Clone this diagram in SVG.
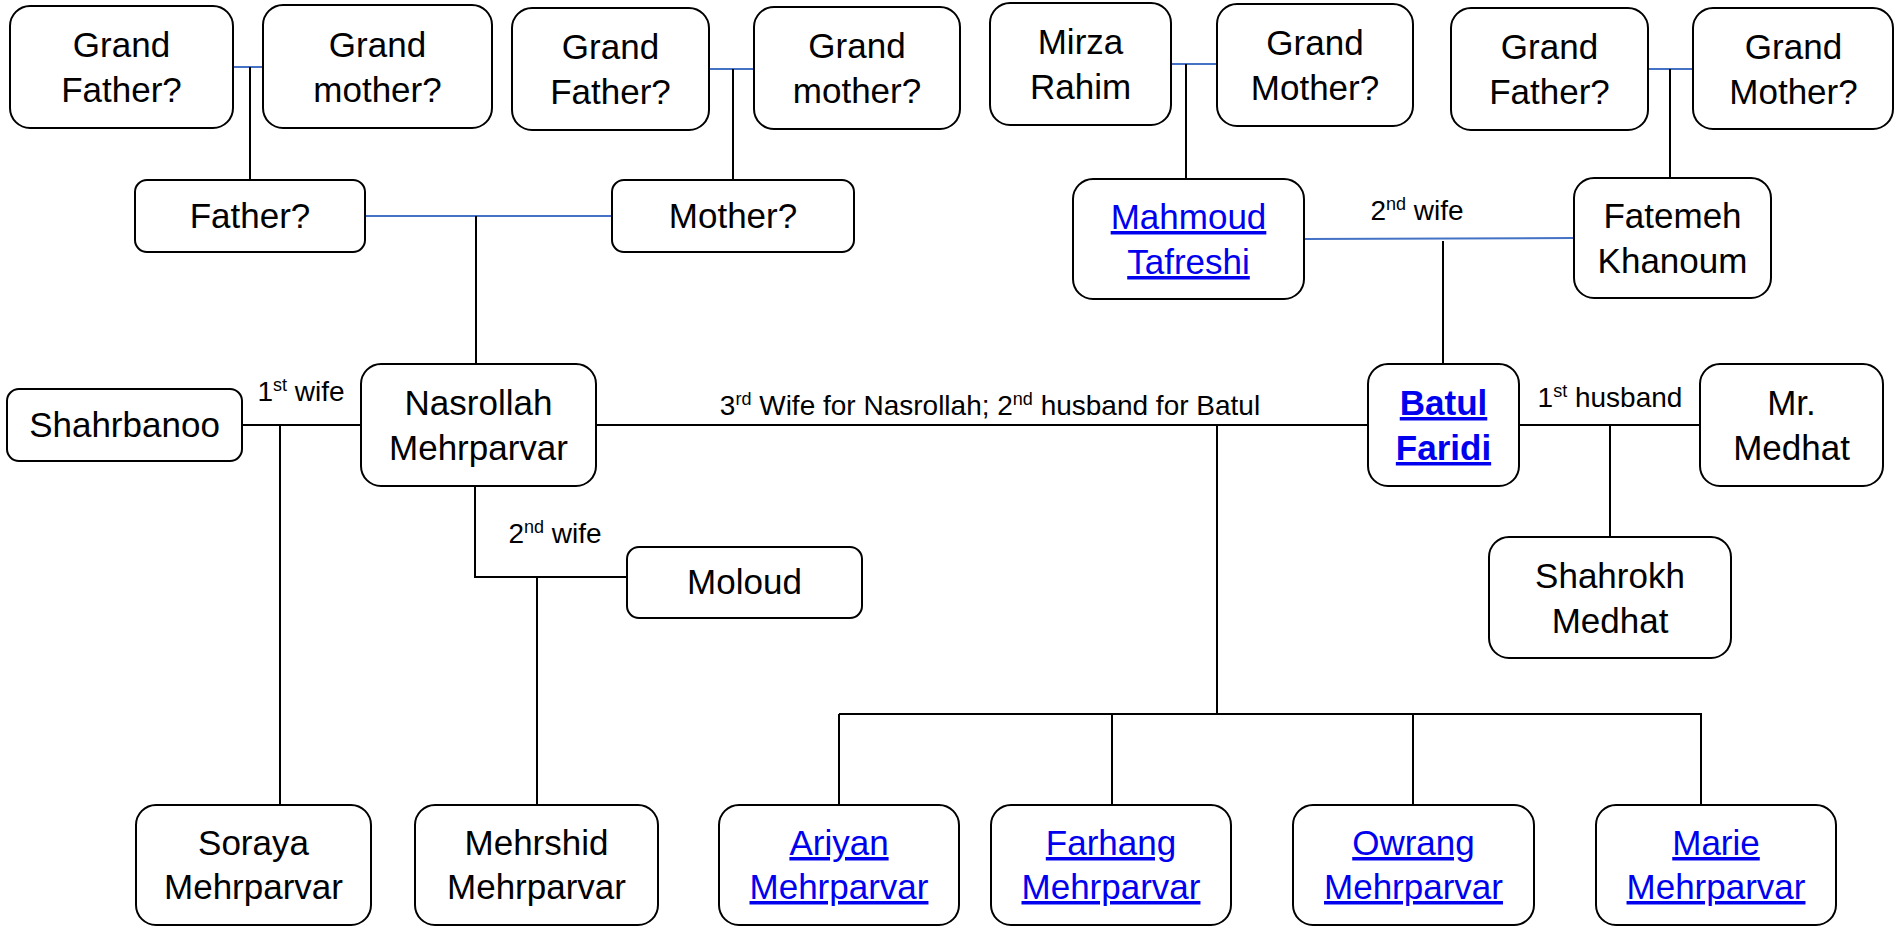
<svg xmlns="http://www.w3.org/2000/svg" width="1895" height="926" viewBox="0 0 1895 926">
<style>
.box{fill:#fff;stroke:#000;stroke-width:2}
.t{font-family:"Liberation Sans",Arial,sans-serif;font-size:35px;fill:#000;text-anchor:middle}
.lk{fill:#0000ee;text-decoration:underline}
.b{font-weight:bold}
.lbl{font-family:"Liberation Sans",Arial,sans-serif;font-size:28px;fill:#000;text-anchor:middle}
.sup{font-size:18px}
.bl{stroke:#4472c4;stroke-width:2;fill:none}
.k{stroke:#000;stroke-width:2;fill:none}
</style>
<rect width="1895" height="926" fill="#fff"/>
<g id="connectors">
<path class="bl" d="M233 67H263M709 69H754M1171 64H1217M1648 69H1693M365 216H612M1304 239L1574 238"/>
<path class="k" d="M250 67V180M733 69V180M1186 64V179M1670 69V178M476 216V364M1443 241V364"/>
<path class="k" d="M242 425H361M596 425H1368M1519 425H1700M280 425V805M1217 425V714M1610 425V537"/>
<path class="k" d="M475 486V577H627M537 577V805"/>
<path class="k" d="M839 714H1702M839 714V805M1112 714V805M1413 714V805M1701 714V805"/>
<text class="lbl" x="301" y="401">1<tspan class="sup" dy="-10">st</tspan><tspan dy="10"> wife</tspan></text>
<text class="lbl" x="555" y="543">2<tspan class="sup" dy="-10">nd</tspan><tspan dy="10"> wife</tspan></text>
<text class="lbl" x="1417" y="220">2<tspan class="sup" dy="-10">nd</tspan><tspan dy="10"> wife</tspan></text>
<text class="lbl" x="990" y="415">3<tspan class="sup" dy="-10">rd</tspan><tspan dy="10"> Wife for Nasrollah; 2</tspan><tspan class="sup" dy="-10">nd</tspan><tspan dy="10"> husband for Batul</tspan></text>
<text class="lbl" x="1610" y="407">1<tspan class="sup" dy="-10">st</tspan><tspan dy="10"> husband</tspan></text>
</g>
<g id="gf1"><rect class="box" x="10" y="6" width="223" height="122" rx="20"/><text class="t" x="121.5" y="57">Grand</text><text class="t" x="121.5" y="102">Father?</text></g>
<g id="gm1"><rect class="box" x="263" y="5" width="229" height="123" rx="20"/><text class="t" x="377.5" y="57">Grand</text><text class="t" x="377.5" y="102">mother?</text></g>
<g id="gf2"><rect class="box" x="512" y="8" width="197" height="122" rx="20"/><text class="t" x="610.5" y="59">Grand</text><text class="t" x="610.5" y="104">Father?</text></g>
<g id="gm2"><rect class="box" x="754" y="7" width="206" height="122" rx="20"/><text class="t" x="857" y="58">Grand</text><text class="t" x="857" y="103">mother?</text></g>
<g id="mirza"><rect class="box" x="990" y="3" width="181" height="122" rx="20"/><text class="t" x="1080.5" y="54">Mirza</text><text class="t" x="1080.5" y="99">Rahim</text></g>
<g id="gm3"><rect class="box" x="1217" y="4" width="196" height="122" rx="20"/><text class="t" x="1315" y="55">Grand</text><text class="t" x="1315" y="100">Mother?</text></g>
<g id="gf4"><rect class="box" x="1451" y="8" width="197" height="122" rx="20"/><text class="t" x="1549.5" y="59">Grand</text><text class="t" x="1549.5" y="104">Father?</text></g>
<g id="gm4"><rect class="box" x="1693" y="8" width="200" height="121" rx="20"/><text class="t" x="1793.5" y="59">Grand</text><text class="t" x="1793.5" y="104">Mother?</text></g>
<g id="father"><rect class="box" x="135" y="180" width="230" height="72" rx="12"/><text class="t" x="250" y="228">Father?</text></g>
<g id="mother"><rect class="box" x="612" y="180" width="242" height="72" rx="12"/><text class="t" x="733" y="228">Mother?</text></g>
<g id="mahmoud"><rect class="box" x="1073" y="179" width="231" height="120" rx="20"/><text class="t lk" x="1188.5" y="229">Mahmoud</text><text class="t lk" x="1188.5" y="274">Tafreshi</text></g>
<g id="fatemeh"><rect class="box" x="1574" y="178" width="197" height="120" rx="20"/><text class="t" x="1672.5" y="228">Fatemeh</text><text class="t" x="1672.5" y="273">Khanoum</text></g>
<g id="shahrbanoo"><rect class="box" x="7" y="389" width="235" height="72" rx="12"/><text class="t" x="124.5" y="437">Shahrbanoo</text></g>
<g id="nasrollah"><rect class="box" x="361" y="364" width="235" height="122" rx="20"/><text class="t" x="478.5" y="415">Nasrollah</text><text class="t" x="478.5" y="460">Mehrparvar</text></g>
<g id="batul"><rect class="box" x="1368" y="364" width="151" height="122" rx="20"/><text class="t lk b" x="1443.5" y="415">Batul</text><text class="t lk b" x="1443.5" y="460">Faridi</text></g>
<g id="mrmedhat"><rect class="box" x="1700" y="364" width="183" height="122" rx="20"/><text class="t" x="1791.5" y="415">Mr.</text><text class="t" x="1791.5" y="460">Medhat</text></g>
<g id="moloud"><rect class="box" x="627" y="547" width="235" height="71" rx="12"/><text class="t" x="744.5" y="594">Moloud</text></g>
<g id="shahrokh"><rect class="box" x="1489" y="537" width="242" height="121" rx="20"/><text class="t" x="1610" y="588">Shahrokh</text><text class="t" x="1610" y="633">Medhat</text></g>
<g id="soraya"><rect class="box" x="136" y="805" width="235" height="120" rx="20"/><text class="t" x="253.5" y="855">Soraya</text><text class="t" x="253.5" y="899">Mehrparvar</text></g>
<g id="mehrshid"><rect class="box" x="415" y="805" width="243" height="120" rx="20"/><text class="t" x="536.5" y="855">Mehrshid</text><text class="t" x="536.5" y="899">Mehrparvar</text></g>
<g id="ariyan"><rect class="box" x="719" y="805" width="240" height="120" rx="20"/><text class="t lk" x="839" y="855">Ariyan</text><text class="t lk" x="839" y="899">Mehrparvar</text></g>
<g id="farhang"><rect class="box" x="991" y="805" width="240" height="120" rx="20"/><text class="t lk" x="1111" y="855">Farhang</text><text class="t lk" x="1111" y="899">Mehrparvar</text></g>
<g id="owrang"><rect class="box" x="1293" y="805" width="241" height="120" rx="20"/><text class="t lk" x="1413.5" y="855">Owrang</text><text class="t lk" x="1413.5" y="899">Mehrparvar</text></g>
<g id="marie"><rect class="box" x="1596" y="805" width="240" height="120" rx="20"/><text class="t lk" x="1716" y="855">Marie</text><text class="t lk" x="1716" y="899">Mehrparvar</text></g>
</svg>
